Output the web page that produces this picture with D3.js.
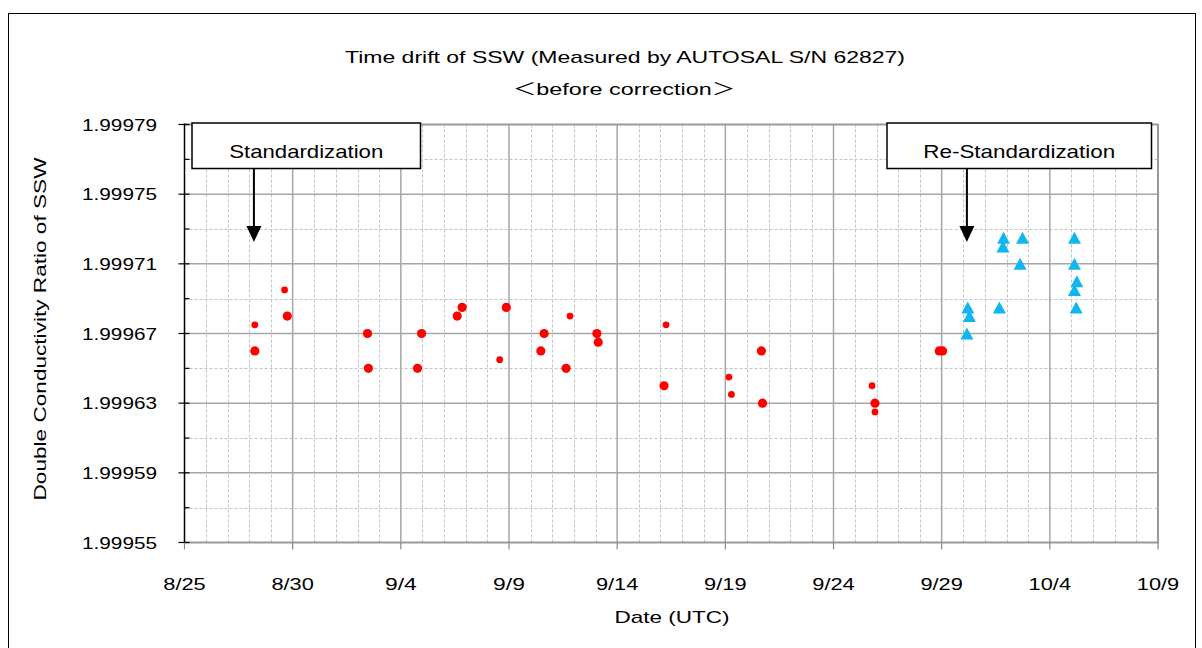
<!DOCTYPE html>
<html>
<head>
<meta charset="utf-8">
<script src="https://cdn.jsdelivr.net/npm/d3@7"></script>
<style>
  html, body { margin: 0; padding: 0; background: #fff; }
  svg { display: block; }
  text { font-family: "Liberation Sans", Arial, "Noto Sans CJK JP", sans-serif; fill: #000; }
</style>
</head>
<body>
<svg id="chart" width="1202" height="648"></svg>
<script>
// ---------------- data ----------------
const YEAR = "2008";
const xTickLabels = ["8/25", "8/30", "9/4", "9/9", "9/14", "9/19", "9/24", "9/29", "10/4", "10/9"];
const yTickLabels = ["1.99955", "1.99959", "1.99963", "1.99967", "1.99971", "1.99975", "1.99979"];

// red series, larger markers
const redLargeDates = ["08/28 06:00", "08/29 18:00", "09/02 11:00", "09/02 12:00", "09/04 23:00",
  "09/04 18:30", "09/06 14:30", "09/06 20:00", "09/08 21:00", "09/10 15:00", "09/10 11:20",
  "09/11 15:20", "09/13 01:30", "09/13 03:00", "09/16 04:00", "09/20 16:00", "09/20 17:15",
  "09/25 22:00", "09/28 21:20", "09/29 01:00"];
const redLargeValues = [1.99966, 1.99968, 1.99967, 1.99965, 1.99967,
  1.99965, 1.99968, 1.999685, 1.999685, 1.99967, 1.99966,
  1.99965, 1.99967, 1.999665, 1.99964, 1.99966, 1.99963,
  1.99963, 1.99966, 1.99966];

// red series, smaller markers
const redSmallDates = ["08/28 06:00", "08/29 15:00", "09/08 13:40", "09/11 19:40", "09/16 06:15",
  "09/19 04:00", "09/19 06:45", "09/25 18:45", "09/25 22:00"];
const redSmallValues = [1.999675, 1.999695, 1.999655, 1.99968, 1.999675,
  1.999645, 1.999635, 1.99964, 1.999625];

// after re-standardization (cyan triangles)
const blueDates = ["09/30 04:00", "09/30 06:45", "09/30 05:00", "10/01 16:00", "10/01 20:40",
  "10/01 20:00", "10/02 17:45", "10/02 15:00", "10/05 03:20", "10/05 03:20",
  "10/05 06:00", "10/05 03:20", "10/05 05:15"];
const blueValues = [1.99967, 1.99968, 1.999685, 1.999685, 1.999725,
  1.99972, 1.999725, 1.99971, 1.999725, 1.99971,
  1.9997, 1.999695, 1.999685];

const annotations = [
  { label: "Standardization", date: "08/28 05:00" },
  { label: "Re-Standardization", date: "09/30 04:00" }
];

// ---------------- helpers ----------------
const parseDT = d3.utcParse("%Y/%m/%d %H:%M");
const parseTick = s => d3.utcParse("%Y/%m/%d")(YEAR + "/" + s);
const toDate = s => parseDT(YEAR + "/" + s);

const svg = d3.select("#chart");
const L = 184.5, R = 1158, T = 124.5, B = 542.5;

const x = d3.scaleUtc()
  .domain([parseTick(xTickLabels[0]), parseTick(xTickLabels[xTickLabels.length - 1])])
  .range([L, R]);
const yTickVals = yTickLabels.map(Number);
const y = d3.scaleLinear()
  .domain([d3.min(yTickVals), d3.max(yTickVals)])
  .range([B, T]);

// outer frame
svg.append("rect").attr("x", 8.5).attr("y", 13.5).attr("width", 1187).attr("height", 700)
  .attr("fill", "none").attr("stroke", "#000").attr("stroke-width", 1);

// ---------------- grid ----------------
const grid = svg.append("g");
const majorDates = xTickLabels.map(parseTick);
const majorSet = new Set(majorDates.map(d => +d));
const allDays = d3.utcDay.range(x.domain()[0], x.domain()[1]);
grid.selectAll("line.vminor").data(allDays.filter(d => !majorSet.has(+d)))
  .join("line")
  .attr("x1", d => Math.round(x(d)) + 0.5).attr("x2", d => Math.round(x(d)) + 0.5)
  .attr("y1", T).attr("y2", B)
  .attr("stroke", "#c4c4c4").attr("stroke-width", 1).attr("stroke-dasharray", "3,2");
// horizontal minor (half steps)
const yMinor = d3.range(yTickVals.length - 1).map(i => (yTickVals[i] + yTickVals[i + 1]) / 2);
grid.selectAll("line.hminor").data(yMinor)
  .join("line")
  .attr("x1", L).attr("x2", R)
  .attr("y1", d => Math.round(y(d)) + 0.5).attr("y2", d => Math.round(y(d)) + 0.5)
  .attr("stroke", "#c4c4c4").attr("stroke-width", 1).attr("stroke-dasharray", "3,2");
// major
grid.selectAll("line.vmajor").data(majorDates.slice(1, -1))
  .join("line")
  .attr("x1", d => x(d)).attr("x2", d => x(d))
  .attr("y1", T).attr("y2", B)
  .attr("stroke", "#a6a6a6").attr("stroke-width", 1.5);
grid.selectAll("line.hmajor").data(yTickVals.slice(1, -1))
  .join("line")
  .attr("x1", L).attr("x2", R)
  .attr("y1", d => y(d)).attr("y2", d => y(d))
  .attr("stroke", "#a6a6a6").attr("stroke-width", 1.5);

// plot frame (top, right, bottom gray)
svg.append("path")
  .attr("d", `M${L},${T}H${R}V${B}H${L}`)
  .attr("fill", "none").attr("stroke", "#999").attr("stroke-width", 2);

// ---------------- axes ----------------
// y axis line
svg.append("line").attr("x1", L).attr("x2", L).attr("y1", T - 1).attr("y2", B)
  .attr("stroke", "#000").attr("stroke-width", 1.5);
// major ticks (cross)
svg.selectAll("line.ytick").data(yTickVals).join("line")
  .attr("x1", L - 6).attr("x2", L + 5)
  .attr("y1", d => y(d)).attr("y2", d => y(d))
  .attr("stroke", "#000").attr("stroke-width", 1.2);
// minor ticks (inside)
svg.selectAll("line.ytickm").data(yMinor).join("line")
  .attr("x1", L).attr("x2", L + 5)
  .attr("y1", d => y(d)).attr("y2", d => y(d))
  .attr("stroke", "#000").attr("stroke-width", 1.2);
// y labels
svg.selectAll("text.ylab").data(yTickLabels).join("text")
  .attr("x", 157).attr("y", d => y(+d) + 6)
  .attr("text-anchor", "end")
  .attr("font-size", 17)
  .attr("textLength", 75).attr("lengthAdjust", "spacingAndGlyphs")
  .text(d => d);

// x ticks
svg.selectAll("line.xtick").data(majorDates).join("line")
  .attr("x1", d => x(d)).attr("x2", d => x(d))
  .attr("y1", B).attr("y2", B + 7)
  .attr("stroke", "#888").attr("stroke-width", 1.2);
svg.selectAll("text.xlab").data(xTickLabels).join("text")
  .attr("x", d => x(parseTick(d))).attr("y", 590)
  .attr("text-anchor", "middle")
  .attr("font-size", 17)
  .attr("textLength", d => d.length * 10.6).attr("lengthAdjust", "spacingAndGlyphs")
  .text(d => d);

// axis titles
svg.append("text").attr("x", 672).attr("y", 623).attr("text-anchor", "middle")
  .attr("font-size", 17).attr("textLength", 115).attr("lengthAdjust", "spacingAndGlyphs")
  .text("Date (UTC)");
svg.append("text")
  .attr("transform", "translate(46,329) rotate(-90)")
  .attr("text-anchor", "middle")
  .attr("font-size", 17).attr("textLength", 343).attr("lengthAdjust", "spacingAndGlyphs")
  .text("Double Conductivity Ratio of SSW");

// title
svg.append("text").attr("x", 625).attr("y", 63).attr("text-anchor", "middle")
  .attr("font-size", 17).attr("textLength", 560).attr("lengthAdjust", "spacingAndGlyphs")
  .text("Time drift of SSW (Measured by AUTOSAL S/N 62827)");
svg.append("text").attr("x", 624).attr("y", 95).attr("text-anchor", "middle")
  .attr("font-size", 17).attr("textLength", 222).attr("lengthAdjust", "spacingAndGlyphs")
  .text("＜before correction＞");

// ---------------- points ----------------
const pts = svg.append("g");
pts.selectAll("circle.rl").data(redLargeDates.map((d, i) => ({ d: toDate(d), v: redLargeValues[i] })))
  .join("circle")
  .attr("cx", p => x(p.d)).attr("cy", p => y(p.v)).attr("r", 4.6)
  .attr("fill", "#ff0000");
pts.selectAll("circle.rs").data(redSmallDates.map((d, i) => ({ d: toDate(d), v: redSmallValues[i] })))
  .join("circle")
  .attr("cx", p => x(p.d)).attr("cy", p => y(p.v)).attr("r", 3.4)
  .attr("fill", "#ff0000");
const triW = 13, triH = 12;
pts.selectAll("path.tri").data(blueDates.map((d, i) => ({ d: toDate(d), v: blueValues[i] })))
  .join("path")
  .attr("d", `M0,${-triH / 2}L${triW / 2},${triH / 2}L${-triW / 2},${triH / 2}Z`)
  .attr("transform", p => `translate(${x(p.d)},${y(p.v)})`)
  .attr("fill", "#0fb6ef");

// ---------------- annotations ----------------
const boxes = [
  { x0: 192, x1: 420.5, tw: 154 },
  { x0: 887, x1: 1151.5, tw: 192 }
];
annotations.forEach((a, i) => {
  const b = boxes[i];
  const ax = x(toDate(a.date));
  svg.append("line").attr("x1", ax).attr("x2", ax).attr("y1", 168).attr("y2", 228)
    .attr("stroke", "#000").attr("stroke-width", 2);
  svg.append("path")
    .attr("d", `M${ax - 7.5},${226}L${ax + 7.5},${226}L${ax},${242}Z`)
    .attr("fill", "#000");
  svg.append("rect").attr("x", b.x0).attr("y", 123).attr("width", b.x1 - b.x0).attr("height", 45.5)
    .attr("fill", "#fff").attr("stroke", "#000").attr("stroke-width", 1.5);
  svg.append("text").attr("x", (b.x0 + b.x1) / 2).attr("y", 157.5).attr("text-anchor", "middle")
    .attr("font-size", 19).attr("textLength", b.tw).attr("lengthAdjust", "spacingAndGlyphs")
    .text(a.label);
});
</script>
</body>
</html>
